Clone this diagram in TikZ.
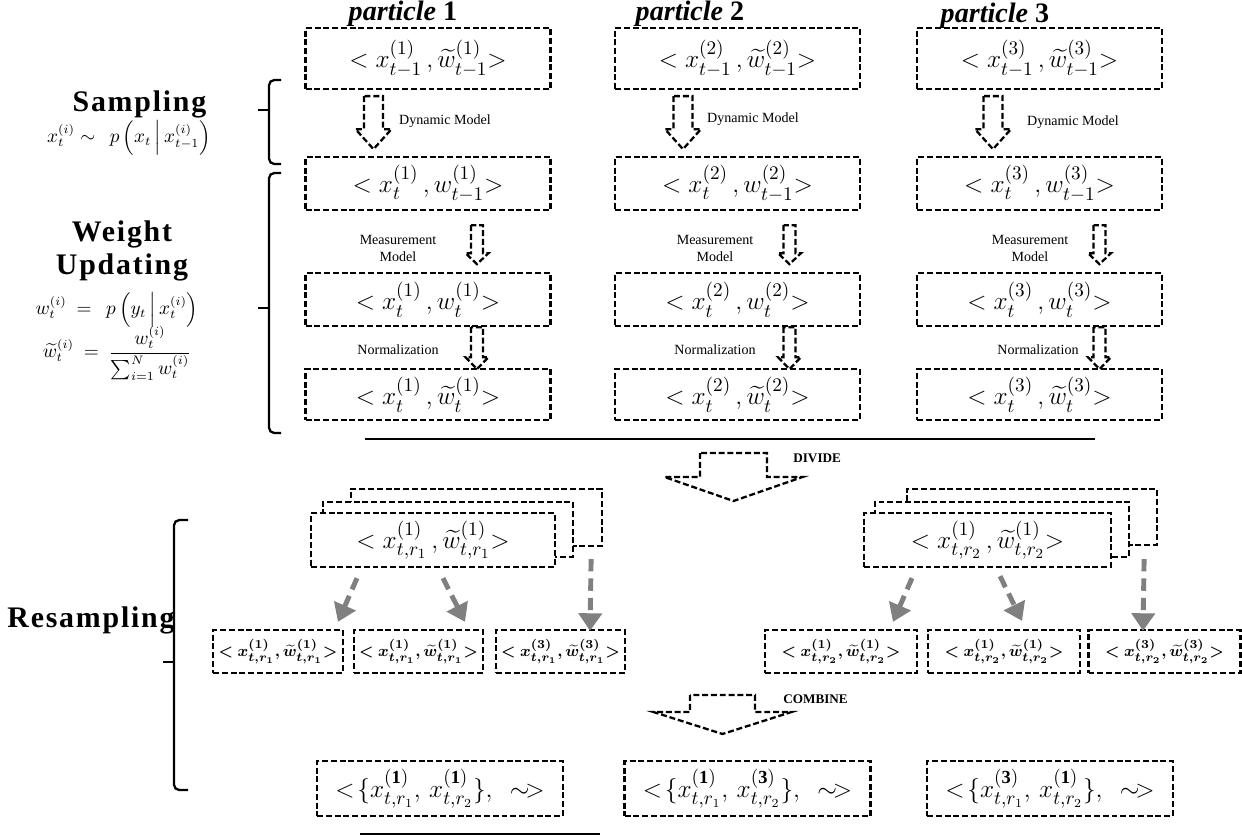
\documentclass[tikz,border=0pt]{standalone}
\usepackage{amsmath,bm}
\usepackage{fontspec}
\setmainfont{Liberation Serif}
\newfontfamily\stagefont[LetterSpace=6]{Liberation Serif}
\usetikzlibrary{arrows.meta, calc, positioning}

% hollow block arrow: [style]{top point}{half shaft}{half head}{shaft length}{head length}
\newcommand{\hollowarrow}[6][]{%
  \draw[dashline, #1] #2 ++(-#3,0) -- ++(0,#5) -- ++(#3-#4,0) -- ++(#4,#6)
    -- ++(#4,-#6) -- ++(#3-#4,0) -- ++(0,-#5) -- cycle;}
% side brace: {x of hooks}{x of spine}{top}{tip}{bottom}
\newcommand{\sidebrace}[5]{%
  \draw[brace] (#1,#3) -- (#2,#3) -- (#2,#5) -- (#1,#5);
  \draw[brace] (#2,#4) -- ++(-11,0);}

\tikzset{
  dashline/.style = {line width=1.3pt, dash pattern=on 3.4pt off 1.6pt},
  dashbox/.style = {draw, dashline, inner sep=0pt},
  pbox/.style = {dashbox, minimum width=4.9cm, font=\fontsize{15.5}{18}\selectfont},
  stack/.style = {dashbox, fill=white, font=\fontsize{15.5}{18}\selectfont},
  sbox/.style = {dashbox, minimum height=0.86cm, font=\fontsize{9.5}{11}\selectfont},
  fbox/.style = {dashbox, minimum width=4.92cm, minimum height=1.1cm, font=\fontsize{15}{18}\selectfont},
  head/.style = {font=\fontsize{16}{19}\selectfont\bfseries\itshape, inner sep=0pt},
  stage/.style = {font=\fontsize{17}{19}\stagefont\bfseries, align=center, inner sep=0pt},
  formula/.style = {font=\fontsize{10.5}{12}\selectfont, inner sep=0pt},
  lab/.style = {font=\fontsize{8}{9.5}\selectfont, align=center, inner sep=1pt},
  tag/.style = {font=\fontsize{7.5}{9}\selectfont\bfseries, anchor=west, inner sep=0pt},
  brace/.style = {line width=1.3pt, rounded corners=3pt},
  garrow/.style = {draw=gray, line width=2.8pt, dash pattern=on 7pt off 4pt,
    -{Triangle[width=13pt, length=10pt]}}
}

\begin{document}
\begin{tikzpicture}[x=0.02cm, y=-0.02cm]
  \useasboundingbox (0,0) rectangle (1242,836);

  % stages
  \node[stage] (samp) at (139.5,104) {Sampling};
  \node[formula] (sampf) at (129,138)
    {$x^{(i)}_t \sim\ \ p\left(x_t\,\middle|\,x^{(i)}_{t-1}\right)$};
  \node[stage] (weight) at (122,251) {Weight\\Updating};
  \node[formula] (wf) at (117,310)
    {$w^{(i)}_t\ =\ \ p\left(y_t\,\middle|\,x^{(i)}_t\right)$};
  \node[formula] (wtf) at (117,353)
    {$\widetilde{w}^{(i)}_t\ =\ \dfrac{w^{(i)}_t}{\textstyle\sum_{i=1}^{N} w^{(i)}_t}$};
  \node[stage] (resamp) at (91,620) {Resampling};

  \sidebrace{281}{269}{80}{110}{164}
  \sidebrace{281}{269}{173}{308}{433}
  \sidebrace{188}{174}{520}{662}{790}

  % particles
  \node[head] (h1) at (403,14) {particle {\upshape 1}};
  \node[head] (h2) at (690,14) {particle {\upshape 2}};
  \node[head] (h3) at (995,16) {particle {\upshape 3}};

  \node[pbox, minimum height=1.22cm] (p1a) at (428,58.5)
    {$<x^{(1)}_{t-1}\,,\widetilde{w}^{(1)}_{t-1}{>}$};
  \node[pbox, minimum height=1.06cm] (p1b) at (428,183.5)
    {$<x^{(1)}_{t}\,,w^{(1)}_{t-1}{>}$};
  \node[pbox, minimum height=1.06cm] (p1c) at (428,299.5)
    {$<x^{(1)}_{t}\,,w^{(1)}_{t}{>}$};
  \node[pbox, minimum height=1.02cm] (p1d) at (428,394.5)
    {$<x^{(1)}_{t}\,,\widetilde{w}^{(1)}_{t}{>}$};

  \node[pbox, minimum height=1.22cm] (p2a) at (737.5,58.5)
    {$<x^{(2)}_{t-1}\,,\widetilde{w}^{(2)}_{t-1}{>}$};
  \node[pbox, minimum height=1.06cm] (p2b) at (737.5,183.5)
    {$<x^{(2)}_{t}\,,w^{(2)}_{t-1}{>}$};
  \node[pbox, minimum height=1.06cm] (p2c) at (737.5,299.5)
    {$<x^{(2)}_{t}\,,w^{(2)}_{t}{>}$};
  \node[pbox, minimum height=1.02cm] (p2d) at (737.5,394.5)
    {$<x^{(2)}_{t}\,,\widetilde{w}^{(2)}_{t}{>}$};

  \node[pbox, minimum height=1.22cm] (p3a) at (1039.5,58.5)
    {$<x^{(3)}_{t-1}\,,\widetilde{w}^{(3)}_{t-1}{>}$};
  \node[pbox, minimum height=1.06cm] (p3b) at (1039.5,183.5)
    {$<x^{(3)}_{t}\,,w^{(3)}_{t-1}{>}$};
  \node[pbox, minimum height=1.06cm] (p3c) at (1039.5,299.5)
    {$<x^{(3)}_{t}\,,w^{(3)}_{t}{>}$};
  \node[pbox, minimum height=1.02cm] (p3d) at (1039.5,394.5)
    {$<x^{(3)}_{t}\,,\widetilde{w}^{(3)}_{t}{>}$};

  % dynamic model
  \hollowarrow{($(p1a.south)+(-54.5,6)$)}{9.5}{18}{33}{20}
  \hollowarrow{($(p2a.south)+(-54.5,6)$)}{9.5}{18}{33}{20}
  \hollowarrow{($(p3a.south)+(-46.5,6)$)}{9.5}{18}{33}{20}
  \node[lab, anchor=west] (dm1) at ($(p1a.south)+(-31,31)$) {Dynamic Model};
  \node[lab, anchor=west] (dm2) at ($(p2a.south)+(-32.5,29)$) {Dynamic Model};
  \node[lab, anchor=west] (dm3) at ($(p3a.south)+(-14.5,32)$) {Dynamic Model};

  % measurement model
  \hollowarrow{($(p1b.south)+(49,14)$)}{6}{11.5}{28}{11}
  \hollowarrow{($(p2b.south)+(52,14)$)}{6}{11.5}{28}{11}
  \hollowarrow{($(p3b.south)+(60,14)$)}{6}{11.5}{28}{11}
  \node[lab] (mm1) at ($(p1b.south)+(-30,37)$) {Measurement\\Model};
  \node[lab] (mm2) at ($(p2b.south)+(-22.5,37)$) {Measurement\\Model};
  \node[lab] (mm3) at ($(p3b.south)+(-9.5,37)$) {Measurement\\Model};

  % normalization
  \hollowarrow{($(p1c.south)+(49,0)$)}{6}{11.5}{30}{12}
  \hollowarrow{($(p2c.south)+(52,0)$)}{6}{11.5}{30}{12}
  \hollowarrow{($(p3c.south)+(60,0)$)}{6}{11.5}{30}{12}
  \node[lab] (nm1) at ($(p1c.south)+(-30,23)$) {Normalization};
  \node[lab] (nm2) at ($(p2c.south)+(-22.5,23)$) {Normalization};
  \node[lab] (nm3) at ($(p3c.south)+(-1.5,23)$) {Normalization};

  \draw[line width=1.2pt] (365,439) -- (1095,439);

  % divide
  \hollowarrow{(733.5,453)}{33.5}{69}{24}{24}
  \node[tag] (div) at (793,458) {DIVIDE};

  \node[dashbox, minimum width=5.02cm, minimum height=1.14cm] (s1c) at (476.5,517.5) {};
  \node[stack, minimum width=5cm, minimum height=1.1cm] (s1b) at (448,529.5) {};
  \node[stack, minimum width=4.88cm, minimum height=1.08cm] (s1) at (433,540)
    {$<x^{(1)}_{t,r_1}\,,\widetilde{w}^{(1)}_{t,r_1}{>}$};
  \node[dashbox, minimum width=5cm, minimum height=1.12cm] (s2c) at (1032,517) {};
  \node[stack, minimum width=5.08cm, minimum height=1.1cm] (s2b) at (1002,529.5) {};
  \node[stack, minimum width=4.94cm, minimum height=1.08cm] (s2) at (987.5,540)
    {$<x^{(1)}_{t,r_2}\,,\widetilde{w}^{(1)}_{t,r_2}{>}$};

  \node[sbox, minimum width=2.6cm] (ra) at (278,651.5)
    {$\bm{<x^{(1)}_{t,r_1},\widetilde{w}^{(1)}_{t,r_1}{>}}$};
  \node[sbox, minimum width=2.58cm] (rb) at (418.5,651.5)
    {$\bm{<x^{(1)}_{t,r_1},\widetilde{w}^{(1)}_{t,r_1}{>}}$};
  \node[sbox, minimum width=2.58cm] (rc) at (560.5,651.5)
    {$\bm{<x^{(3)}_{t,r_1},\widetilde{w}^{(3)}_{t,r_1}{>}}$};
  \node[sbox, minimum width=3.04cm] (rd) at (841,651.5)
    {$\bm{<x^{(1)}_{t,r_2},\widetilde{w}^{(1)}_{t,r_2}{>}}$};
  \node[sbox, minimum width=3.04cm] (re) at (1004,651.5)
    {$\bm{<x^{(1)}_{t,r_2},\widetilde{w}^{(1)}_{t,r_2}{>}}$};
  \node[sbox, minimum width=3.04cm] (rf) at (1164.5,651.5)
    {$\bm{<x^{(3)}_{t,r_2},\widetilde{w}^{(3)}_{t,r_2}{>}}$};

  \draw[garrow] ($(s1.south)+(-76,10)$) -- ($(ra.north)+(60,-7)$);
  \draw[garrow] ($(s1.south)+(10,10)$) -- ($(rb.north)+(46.5,-7)$);
  \draw[garrow] ($(s1c.south east)+(-12,12)$) -- ($(rc.north)+(29.5,2)$);
  \draw[garrow] ($(s2.south)+(-75.5,10)$) -- ($(rd.north)+(52,-7)$);
  \draw[garrow] ($(s2.south)+(12.5,8)$) -- ($(re.north)+(18,-8)$);
  \draw[garrow] ($(s2c.south east)+(-14,13)$) -- ($(rf.north)+(-21.5,2)$);

  % combine
  \hollowarrow{(722.5,695)}{32.5}{69}{17}{22}
  \node[tag] (comb) at (783,699) {COMBINE};

  \node[fbox] (f1) at (440,788.5)
    {$<\!\{x^{(\mathbf{1})}_{t,r_1},\,x^{(\mathbf{1})}_{t,r_2}\},\ \ \sim\!>$};
  \node[fbox] (f2) at (747.5,788.5)
    {$<\!\{x^{(\mathbf{1})}_{t,r_1},\,x^{(\mathbf{3})}_{t,r_2}\},\ \ \sim\!>$};
  \node[fbox] (f3) at (1050,788.5)
    {$<\!\{x^{(\mathbf{3})}_{t,r_1},\,x^{(\mathbf{1})}_{t,r_2}\},\ \ \sim\!>$};

  \draw[line width=1pt] (360,834) -- (600,834);
\end{tikzpicture}
\end{document}
